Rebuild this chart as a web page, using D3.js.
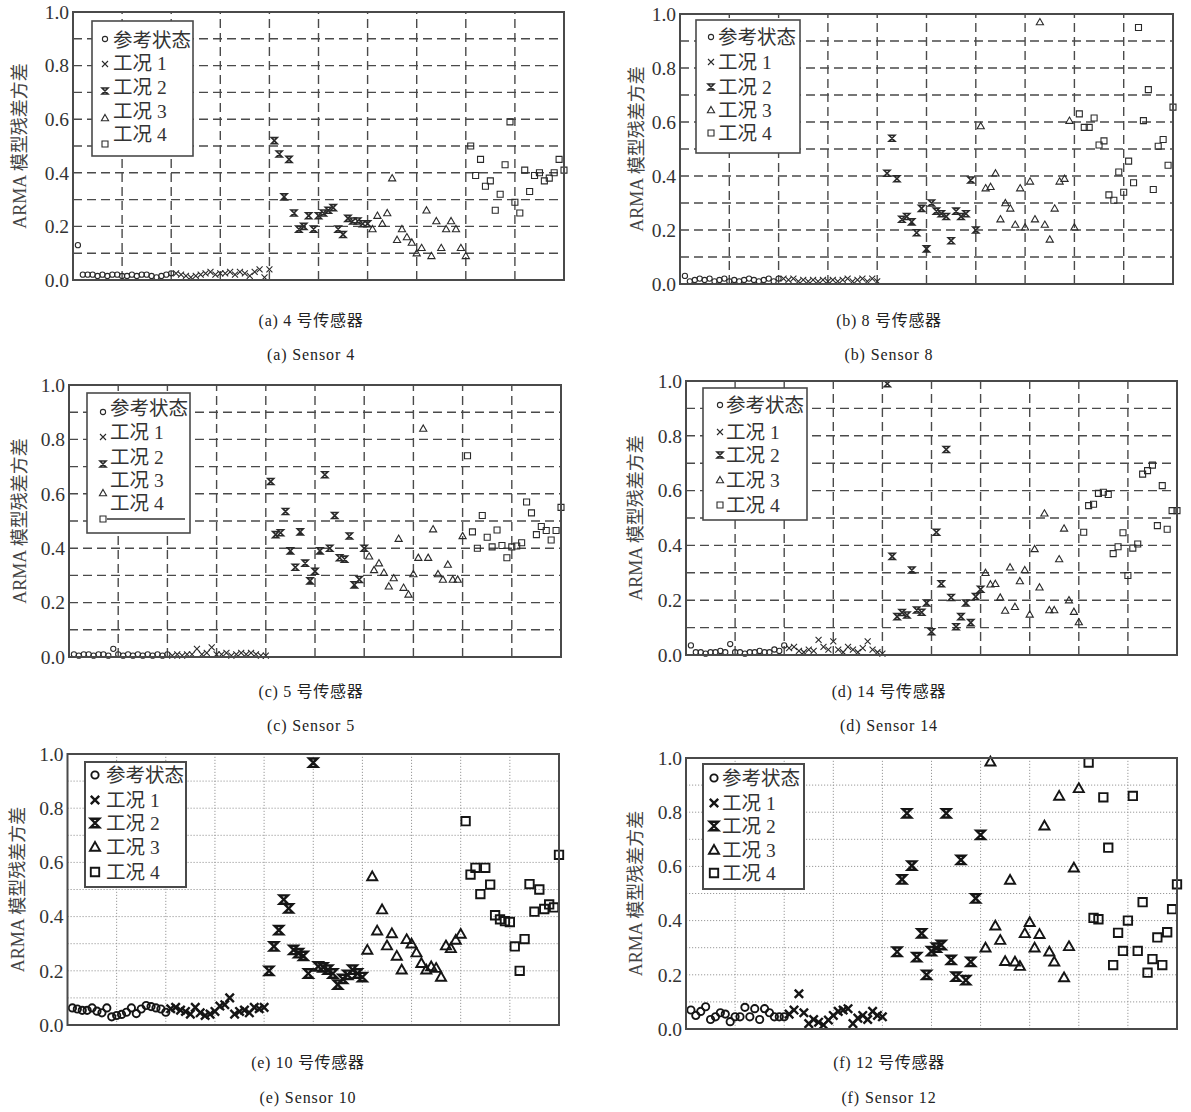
<!DOCTYPE html>
<html><head><meta charset="utf-8">
<script src="https://cdn.jsdelivr.net/npm/d3@7"></script>
<style>body{margin:0;background:#fff}svg{display:block}</style>
</head><body>
<svg id="c" width="1191" height="1112"></svg>
<script>
// ---------- data ----------
const seriesNames = ["参考状态", "工况 1", "工况 2", "工况 3", "工况 4"];
const yTicks = [0, 0.2, 0.4, 0.6, 0.8, 1.0];
const gridY = [0.1, 0.2, 0.3, 0.4, 0.5, 0.6, 0.7, 0.8, 0.9];
const gridX = [10, 20, 30, 40, 50, 60, 70, 80, 90];
const captionsCN = ["(a) 4 号传感器", "(b) 8 号传感器", "(c) 5 号传感器", "(d) 14 号传感器", "(e) 10 号传感器", "(f) 12 号传感器"];
const captionsEN = ["(a) Sensor 4", "(b) Sensor 8", "(c) Sensor 5", "(d) Sensor 14", "(e) Sensor 10", "(f) Sensor 12"];
const yLabel = "ARMA 模型残差方差";

// Sensor 4
const s4_start = [1, 21, 41, 61, 81];
const s4_ref = [0.13,0.02,0.02,0.02,0.015,0.02,0.015,0.02,0.02,0.015,0.015,0.02,0.015,0.02,0.02,0.015,0.01,0.015,0.02,0.025];
const s4_c1 = [0.025,0.02,0.015,0.01,0.015,0.02,0.025,0.03,0.02,0.025,0.025,0.03,0.02,0.03,0.025,0.015,0.03,0.04,0.01,0.04];
const s4_c2 = [0.52,0.47,0.31,0.45,0.25,0.19,0.20,0.24,0.19,0.24,0.25,0.26,0.27,0.19,0.17,0.23,0.22,0.22,0.21,0.21];
const s4_c3 = [0.19,0.24,0.21,0.25,0.38,0.15,0.19,0.16,0.14,0.10,0.12,0.26,0.09,0.22,0.12,0.19,0.22,0.19,0.12,0.09];
const s4_c4 = [0.50,0.39,0.45,0.35,0.37,0.26,0.32,0.43,0.59,0.29,0.25,0.41,0.33,0.39,0.40,0.37,0.38,0.40,0.45,0.41];

// Sensor 8
const s8_start = [1, 21, 42, 61, 81];
const s8_ref = [0.03,0.01,0.015,0.02,0.015,0.02,0.01,0.015,0.02,0.01,0.015,0.01,0.015,0.02,0.015,0.01,0.015,0.02,0.01,0.02];
const s8_c1 = [0.02,0.015,0.02,0.01,0.015,0.01,0.015,0.01,0.015,0.01,0.015,0.01,0.015,0.02,0.01,0.015,0.02,0.01,0.02,0.01];
const s8_c2 = [0.41,0.54,0.39,0.24,0.25,0.23,0.19,0.28,0.13,0.30,0.27,0.26,0.25,0.16,0.27,0.25,0.26,0.385,0.20];
const s8_c3 = [0.585,0.355,0.36,0.41,0.24,0.30,0.28,0.22,0.355,0.21,0.38,0.24,0.97,0.22,0.165,0.28,0.38,0.39,0.605,0.21];
const s8_c4 = [0.63,0.58,0.58,0.615,0.515,0.53,0.33,0.31,0.415,0.34,0.455,0.375,0.95,0.605,0.72,0.35,0.51,0.535,0.44,0.655];

// Sensor 5
const s5_start = [1, 21, 41, 61, 81];
const s5_ref = [0.01,0.005,0.01,0.01,0.005,0.01,0.01,0.005,0.03,0.01,0.005,0.01,0.005,0.01,0.005,0.01,0.005,0.01,0.005,0.01];
const s5_c1 = [0.005,0.01,0.005,0.01,0.01,0.03,0.01,0.015,0.035,0.01,0.01,0.015,0.005,0.01,0.015,0.01,0.015,0.01,0.005,0.005];
const s5_c2 = [0.645,0.45,0.457,0.535,0.39,0.33,0.46,0.345,0.28,0.315,0.39,0.67,0.40,0.52,0.365,0.36,0.445,0.265,0.285,0.40];
const s5_c3 = [0.37,0.32,0.345,0.31,0.26,0.29,0.435,0.255,0.23,0.305,0.365,0.84,0.365,0.47,0.305,0.285,0.34,0.285,0.285,0.445];
const s5_c4 = [0.74,0.46,0.40,0.52,0.44,0.405,0.467,0.41,0.365,0.405,0.408,0.42,0.57,0.53,0.45,0.48,0.465,0.43,0.465,0.55];

// Sensor 14
const s14_start = [1, 21, 41, 61, 81];
const s14_ref = [0.035,0.01,0.01,0.005,0.01,0.01,0.015,0.01,0.04,0.01,0.01,0.005,0.01,0.01,0.015,0.01,0.01,0.02,0.015,0.035];
const s14_c1 = [0.025,0.03,0.015,0.01,0.02,0.015,0.055,0.03,0.02,0.05,0.02,0.01,0.03,0.02,0.01,0.025,0.05,0.02,0.01,0.005];
const s14_c2 = [0.99,0.36,0.14,0.155,0.146,0.31,0.164,0.156,0.19,0.085,0.448,0.26,0.75,0.21,0.103,0.14,0.19,0.118,0.213,0.24];
const s14_c3 = [0.30,0.258,0.26,0.21,0.162,0.32,0.176,0.27,0.31,0.148,0.387,0.247,0.517,0.164,0.164,0.35,0.462,0.20,0.158,0.12];
const s14_c4 = [0.448,0.545,0.55,0.59,0.594,0.586,0.37,0.395,0.446,0.29,0.39,0.405,0.66,0.673,0.693,0.472,0.618,0.459,0.527,0.527];

// Sensor 10
const s10_start = [1, 21, 41, 61, 81];
const s10_ref = [0.063,0.059,0.054,0.054,0.063,0.051,0.045,0.063,0.03,0.035,0.039,0.047,0.063,0.042,0.059,0.072,0.068,0.063,0.059,0.047];
const s10_c1 = [0.06,0.065,0.055,0.05,0.04,0.065,0.045,0.035,0.04,0.05,0.07,0.075,0.10,0.04,0.05,0.055,0.045,0.065,0.06,0.065];
const s10_c2 = [0.20,0.29,0.35,0.463,0.43,0.277,0.265,0.255,0.19,0.968,0.216,0.213,0.204,0.19,0.149,0.17,0.185,0.204,0.19,0.177];
const s10_c3 = [0.277,0.548,0.348,0.426,0.293,0.338,0.255,0.204,0.316,0.30,0.267,0.228,0.204,0.216,0.21,0.177,0.293,0.283,0.314,0.336];
const s10_c4 = [0.752,0.555,0.58,0.483,0.58,0.518,0.405,0.39,0.383,0.38,0.29,0.20,0.317,0.52,0.418,0.50,0.428,0.445,0.434,0.628];

// Sensor 12
const s12_start = [1, 21, 43, 61, 82];
const s12_ref = [0.07,0.05,0.065,0.082,0.035,0.045,0.06,0.055,0.027,0.045,0.045,0.08,0.045,0.075,0.035,0.075,0.06,0.045,0.045,0.045];
const s12_c1 = [0.055,0.07,0.13,0.06,0.02,0.035,0.025,0.015,0.033,0.05,0.065,0.07,0.075,0.02,0.04,0.05,0.035,0.065,0.05,0.045];
const s12_c2 = [0.285,0.552,0.796,0.603,0.265,0.353,0.20,0.287,0.30,0.31,0.796,0.255,0.193,0.624,0.18,0.248,0.482,0.716];
const s12_c3 = [0.30,0.986,0.381,0.328,0.25,0.55,0.248,0.232,0.353,0.394,0.30,0.35,0.75,0.285,0.248,0.86,0.19,0.305,0.595,0.888];
const s12_c4 = [0.983,0.41,0.405,0.855,0.669,0.236,0.355,0.288,0.40,0.86,0.288,0.468,0.208,0.258,0.338,0.236,0.357,0.442,0.534];

// ---------- layout (pixels) ----------
const panels = [
  {series:[s4_ref,s4_c1,s4_c2,s4_c3,s4_c4], starts:s4_start, x0:73, x1:564, yb:280, yt:12, big:false,
   lbox:[92,21,193,156], lmx:105, ltx:113, lmy:[39,64,91,118,144], lty:[40,63,87,111,134], lline:false, ylx:22, capX:311, capY:[326,360]},
  {series:[s8_ref,s8_c1,s8_c2,s8_c3,s8_c4], starts:s8_start, x0:680, x1:1173, yb:284, yt:14, big:false,
   lbox:[696,20,800,153], lmx:711, ltx:718, lmy:[37,62,87,110,133], lty:[37,62,87,110,133], lline:false, ylx:639, capX:889, capY:[326,360]},
  {series:[s5_ref,s5_c1,s5_c2,s5_c3,s5_c4], starts:s5_start, x0:69, x1:561, yb:657, yt:385, big:false,
   lbox:[87,393,190,533], lmx:103, ltx:110, lmy:[412,437,464,493,519], lty:[408,432,457,480,503], lline:true, ylx:22, capX:311, capY:[697,731]},
  {series:[s14_ref,s14_c1,s14_c2,s14_c3,s14_c4], starts:s14_start, x0:686, x1:1177, yb:655, yt:381, big:false,
   lbox:[703,388,807,520], lmx:720, ltx:726, lmy:[405,432,455,480,505], lty:[405,432,455,480,505], lline:false, ylx:638, capX:889, capY:[697,731]},
  {series:[s10_ref,s10_c1,s10_c2,s10_c3,s10_c4], starts:s10_start, x0:67.5, x1:559, yb:1025, yt:754, big:true,
   lbox:[85,762,186,887], lmx:95, ltx:106, lmy:[775,800,823,847,872], lty:[775,800,823,847,872], lline:false, ylx:20, capX:308, capY:[1068,1103]},
  {series:[s12_ref,s12_c1,s12_c2,s12_c3,s12_c4], starts:s12_start, x0:686, x1:1177, yb:1029, yt:758, big:true,
   lbox:[703,764,804,889], lmx:714, ltx:722, lmy:[778,803,826,850,873], lty:[778,803,826,850,873], lline:false, ylx:638, capX:889, capY:[1068,1103]}
];

const FONT = "'Liberation Serif','Times New Roman','Noto Sans CJK SC',serif";
const svg = d3.select("#c");

function markerPath(type, big) {
  const k = big ? 1.4 : 1;
  if (type === 0) { const r = 2.6 * k; return `M${-r},0A${r},${r} 0 1,0 ${r},0A${r},${r} 0 1,0 ${-r},0Z`; }
  if (type === 1) { const s = 3 * k; return `M${-s},${-s}L${s},${s}M${s},${-s}L${-s},${s}`; }
  if (type === 2) { const s = 3 * k; return `M${-s},${-s}H${s}L${-s},${s}H${s}Z`; }
  if (type === 3) { const s = 3.6 * k; return `M0,${-s}L${s},${s*0.75}L${-s},${s*0.75}Z`; }
  const s = 3 * k; return `M${-s},${-s}H${s}V${s}H${-s}Z`;
}
function markerWidth(type, big) {
  if (big) return type === 1 || type === 2 ? 2.4 : 1.9;
  return type === 2 ? 1.6 : 1.1;
}

panels.forEach((p, pi) => {
  const x = d3.scaleLinear().domain([0, 100]).range([p.x0, p.x1]);
  const y = d3.scaleLinear().domain([0, 1]).range([p.yb, p.yt]);
  const g = svg.append("g");
  const gridStyle = p.big ? {c:"#9a9a9a", w:1, d:"1.2,1.8"} : {c:"#4a4a4a", w:1.4, d:"9,5"};

  g.append("g").selectAll("line").data(gridY).join("line")
    .attr("x1", p.x0).attr("x2", p.x1).attr("y1", d => y(d)).attr("y2", d => y(d))
    .attr("stroke", gridStyle.c).attr("stroke-width", gridStyle.w).attr("stroke-dasharray", gridStyle.d);
  g.append("g").selectAll("line").data(gridX).join("line")
    .attr("x1", d => x(d)).attr("x2", d => x(d)).attr("y1", p.yb).attr("y2", p.yt)
    .attr("stroke", gridStyle.c).attr("stroke-width", gridStyle.w).attr("stroke-dasharray", gridStyle.d);

  // points
  p.series.forEach((vals, si) => {
    g.append("g").selectAll("path").data(vals).join("path")
      .attr("transform", (d, i) => `translate(${x(p.starts[si] + i)},${y(d)})`)
      .attr("d", markerPath(si, p.big))
      .attr("fill", "none").attr("stroke", p.big ? "#151515" : "#2a2a2a")
      .attr("stroke-width", markerWidth(si, p.big));
  });

  // frame
  g.append("rect").attr("x", p.x0).attr("y", p.yt).attr("width", p.x1 - p.x0).attr("height", p.yb - p.yt)
    .attr("fill", "none").attr("stroke", "#4a4a4a").attr("stroke-width", 2);

  // y axis
  const ax = d3.axisLeft(y).tickValues(yTicks).tickFormat(d3.format(".1f")).tickSize(0).tickPadding(4);
  const ag = g.append("g").attr("transform", `translate(${p.x0},0)`).call(ax);
  ag.select(".domain").remove();
  ag.selectAll("text").attr("font-family", FONT).attr("font-size", 19.5).attr("fill", "#333");

  // y label
  g.append("text").attr("transform", `translate(${p.ylx},${(p.yb + p.yt) / 2}) rotate(-90)`)
    .attr("text-anchor", "middle").attr("dominant-baseline", "middle")
    .attr("font-family", FONT).attr("font-size", 18).attr("fill", "#444").text(yLabel);

  // legend
  const [bx0, by0, bx1, by1] = p.lbox;
  const lg = g.append("g");
  lg.append("rect").attr("x", bx0).attr("y", by0).attr("width", bx1 - bx0).attr("height", by1 - by0)
    .attr("fill", "#fff").attr("stroke", "#4a4a4a").attr("stroke-width", p.big ? 2 : 1.6);
  seriesNames.forEach((name, si) => {
    lg.append("path").attr("transform", `translate(${p.lmx},${p.lmy[si]})`)
      .attr("d", markerPath(si, p.big)).attr("fill", "none")
      .attr("stroke", p.big ? "#151515" : "#2a2a2a").attr("stroke-width", markerWidth(si, p.big));
    lg.append("text").attr("x", p.ltx).attr("y", p.lty[si]).attr("dominant-baseline", "central")
      .attr("font-family", FONT).attr("font-size", 19.5).attr("fill", "#333").text(name);
  });
  if (p.lline) {
    lg.append("line").attr("x1", p.lmx + 4).attr("x2", bx1 - 5).attr("y1", p.lmy[4]).attr("y2", p.lmy[4])
      .attr("stroke", "#333").attr("stroke-width", 1.6);
  }

  // captions
  g.append("text").attr("x", p.capX).attr("y", p.capY[0]).attr("text-anchor", "middle")
    .attr("font-family", FONT).attr("font-size", 16).attr("fill", "#222").attr("letter-spacing", 0.7).text(captionsCN[pi]);
  g.append("text").attr("x", p.capX).attr("y", p.capY[1]).attr("text-anchor", "middle")
    .attr("font-family", FONT).attr("font-size", 16).attr("fill", "#222").attr("letter-spacing", 0.9).text(captionsEN[pi]);
});
</script>
</body></html>
